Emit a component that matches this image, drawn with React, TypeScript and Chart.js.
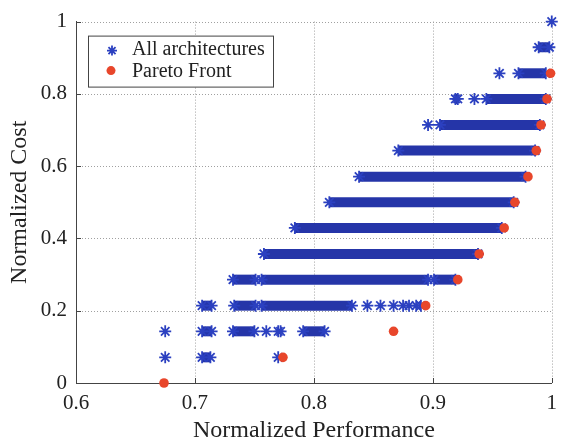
import React, { useEffect, useRef } from 'react';
import { Chart, registerables } from 'chart.js';

Chart.register(...registerables);

// Axis tick positions
const xTickValues = [0.6, 0.7, 0.8, 0.9, 1];
const yTickValues = [0, 0.2, 0.4, 0.6, 0.8, 1];

// Densely packed runs of architectures at one cost level (from -> to performance)
const runCost = [0.929, 0.857, 0.786, 0.786, 0.714, 0.643, 0.571, 0.5, 0.429, 0.357, 0.286, 0.286, 0.286, 0.214, 0.214, 0.214, 0.143, 0.143, 0.143, 0.071];
const runFrom = [0.989, 0.972, 0.919, 0.945, 0.906, 0.871, 0.838, 0.813, 0.784, 0.758, 0.732, 0.756, 0.901, 0.706, 0.733, 0.756, 0.706, 0.732, 0.791, 0.706];
const runTo = [0.998, 0.995, 0.921, 0.995, 0.990, 0.986, 0.978, 0.968, 0.958, 0.938, 0.751, 0.896, 0.919, 0.714, 0.751, 0.832, 0.714, 0.750, 0.809, 0.713];

// Isolated architectures
const lonePerf = [1.0, 0.956, 0.935, 0.896, 0.845, 0.856, 0.867, 0.875, 0.880, 0.886, 0.890, 0.675, 0.760, 0.770, 0.772, 0.675, 0.770];
const loneCost = [1.0, 0.857, 0.786, 0.714, 0.214, 0.214, 0.214, 0.214, 0.214, 0.214, 0.214, 0.143, 0.143, 0.143, 0.143, 0.071, 0.071];

// Pareto-optimal architectures
const paretoPerf = [0.674, 0.774, 0.867, 0.894, 0.921, 0.939, 0.960, 0.969, 0.980, 0.987, 0.991, 0.996, 0.999];
const paretoCost = [0, 0.071, 0.143, 0.214, 0.286, 0.357, 0.429, 0.5, 0.571, 0.643, 0.714, 0.786, 0.857];

const STAR_BLUE = '#2b40c0';
const BAND_BLUE = '#2535a8';
const PARETO_RED = '#e8462b';
const AXIS_GREY = '#444444';
const GRID_GREY = '#a0a0a0';
const TEXT = '#222222';
const SERIF = '"Liberation Serif", "Times New Roman", serif';

const STAR_R = 6;
const STAR_W = 1.8;

const fmt = (v: number) => String(+Number(v).toFixed(3));

function drawStar(ctx: CanvasRenderingContext2D, x: number, y: number, r: number) {
  ctx.beginPath();
  for (let k = 0; k < 4; k++) {
    const a = (k * Math.PI) / 4;
    ctx.moveTo(x - r * Math.cos(a), y - r * Math.sin(a));
    ctx.lineTo(x + r * Math.cos(a), y + r * Math.sin(a));
  }
  ctx.stroke();
}

// Boxed legend in the upper-left corner of the plot
const boxLegend = {
  id: 'boxLegend',
  afterDatasetsDraw(chart: any) {
    const { ctx, chartArea } = chart;
    const x0 = chartArea.left + 12;
    const y0 = chartArea.top + 14;
    const w = 185;
    const h = 51;
    ctx.save();
    ctx.fillStyle = '#ffffff';
    ctx.fillRect(x0, y0, w, h);
    ctx.strokeStyle = AXIS_GREY;
    ctx.lineWidth = 1;
    ctx.strokeRect(x0 + 0.5, y0 + 0.5, w, h);

    ctx.strokeStyle = STAR_BLUE;
    ctx.lineWidth = STAR_W;
    drawStar(ctx, x0 + 24, y0 + 15, 5);

    ctx.fillStyle = PARETO_RED;
    ctx.beginPath();
    ctx.arc(x0 + 23, y0 + 35, 4.5, 0, Math.PI * 2);
    ctx.fill();

    const labels = chart.data.datasets.filter((d: any) => d.label).map((d: any) => d.label);
    ctx.fillStyle = TEXT;
    ctx.font = `20px ${SERIF}`;
    ctx.textBaseline = 'alphabetic';
    ctx.fillText(labels[0], x0 + 44, y0 + 19);
    ctx.fillText(labels[1], x0 + 44, y0 + 41);
    ctx.restore();
  },
};

// Dotted grid plus short inward tick marks on the left and bottom axes
const gridAndTicks = {
  id: 'gridAndTicks',
  beforeDatasetsDraw(chart: any) {
    const { ctx, chartArea, scales } = chart;
    ctx.save();
    ctx.strokeStyle = GRID_GREY;
    ctx.lineWidth = 1;
    ctx.setLineDash([1, 2]);
    ctx.beginPath();
    scales.x.ticks.forEach((t: any) => {
      const px = Math.round(scales.x.getPixelForValue(t.value)) + 0.5;
      if (px <= chartArea.left + 1) return;
      ctx.moveTo(px, chartArea.top);
      ctx.lineTo(px, chartArea.bottom);
    });
    scales.y.ticks.forEach((t: any) => {
      const py = Math.round(scales.y.getPixelForValue(t.value)) + 0.5;
      if (py >= chartArea.bottom - 1) return;
      ctx.moveTo(chartArea.left, py);
      ctx.lineTo(chartArea.right, py);
    });
    ctx.stroke();
    ctx.restore();
  },
  afterDraw(chart: any) {
    const { ctx, chartArea, scales } = chart;
    ctx.save();
    ctx.strokeStyle = AXIS_GREY;
    ctx.lineWidth = 1;
    ctx.beginPath();
    scales.x.ticks.forEach((t: any) => {
      const px = Math.round(scales.x.getPixelForValue(t.value)) + 0.5;
      ctx.moveTo(px, chartArea.bottom);
      ctx.lineTo(px, chartArea.bottom - 5);
    });
    scales.y.ticks.forEach((t: any) => {
      const py = Math.round(scales.y.getPixelForValue(t.value)) + 0.5;
      ctx.moveTo(chartArea.left, py);
      ctx.lineTo(chartArea.left + 5, py);
    });
    ctx.stroke();
    ctx.restore();
  },
};

export default function App() {
  const canvasRef = useRef<HTMLCanvasElement | null>(null);

  useEffect(() => {
    if (!canvasRef.current) return;

    const bandSets = runCost.map((c, i) => ({
      label: '',
      data: [
        { x: runFrom[i], y: c },
        { x: runTo[i], y: c },
      ],
      showLine: true,
      borderColor: BAND_BLUE,
      borderWidth: 10,
      borderCapStyle: 'butt' as const,
      pointStyle: 'star' as const,
      pointRadius: STAR_R,
      pointBorderWidth: STAR_W,
      pointBorderColor: STAR_BLUE,
      pointBackgroundColor: STAR_BLUE,
      order: 2,
      clip: false as const,
    }));

    const chart = new Chart(canvasRef.current, {
      type: 'scatter',
      data: {
        datasets: [
          {
            label: 'All architectures',
            data: lonePerf.map((p, i) => ({ x: p, y: loneCost[i] })),
            pointStyle: 'star',
            pointRadius: STAR_R,
            pointBorderWidth: STAR_W,
            pointBorderColor: STAR_BLUE,
            pointBackgroundColor: STAR_BLUE,
            order: 1,
            clip: false,
          },
          {
            label: 'Pareto Front',
            data: paretoPerf.map((p, i) => ({ x: p, y: paretoCost[i] })),
            pointStyle: 'circle',
            pointRadius: 4.8,
            pointBorderWidth: 0,
            pointBackgroundColor: PARETO_RED,
            pointBorderColor: PARETO_RED,
            order: 0,
            clip: false,
          },
          ...bandSets,
        ] as any,
      },
      options: {
        responsive: false,
        animation: false,
        events: [],
        layout: { padding: { top: 14, right: 5, left: 0, bottom: 0 } },
        plugins: {
          legend: { display: false },
          tooltip: { enabled: false },
        },
        scales: {
          x: {
            type: 'linear',
            min: 0.6,
            max: 1,
            afterBuildTicks: (s: any) => {
              s.ticks = xTickValues.map((v) => ({ value: v }));
            },
            afterFit: (s: any) => {
              s.height = 63;
            },
            grid: { display: false, drawTicks: false },
            border: { display: true, color: AXIS_GREY, width: 1 },
            ticks: {
              color: TEXT,
              font: { family: SERIF, size: 21 },
              padding: 8,
              maxRotation: 0,
              callback: (v: any) => fmt(v),
            },
            title: {
              display: true,
              text: 'Normalized Performance',
              color: TEXT,
              font: { family: SERIF, size: 24 },
              padding: { top: 0, bottom: 1 },
            },
          },
          y: {
            type: 'linear',
            min: 0,
            max: 1,
            afterBuildTicks: (s: any) => {
              s.ticks = yTickValues.map((v) => ({ value: v }));
            },
            afterFit: (s: any) => {
              s.width = 76;
            },
            grid: { display: false, drawTicks: false },
            border: { display: true, color: AXIS_GREY, width: 1 },
            ticks: {
              color: TEXT,
              font: { family: SERIF, size: 21 },
              padding: 9,
              callback: (v: any) => fmt(v),
            },
            title: {
              display: true,
              text: 'Normalized Cost',
              color: TEXT,
              font: { family: SERIF, size: 24 },
              padding: { top: 5, bottom: 0 },
            },
          },
        },
      },
      plugins: [gridAndTicks, boxLegend],
    });

    return () => chart.destroy();
  }, []);

  return (
    <div style={{ position: 'fixed', left: 0, top: 0, width: 565, height: 446, background: '#ffffff' }}>
      <canvas ref={canvasRef} width={565} height={446} style={{ display: 'block', width: 565, height: 446 }} />
    </div>
  );
}
